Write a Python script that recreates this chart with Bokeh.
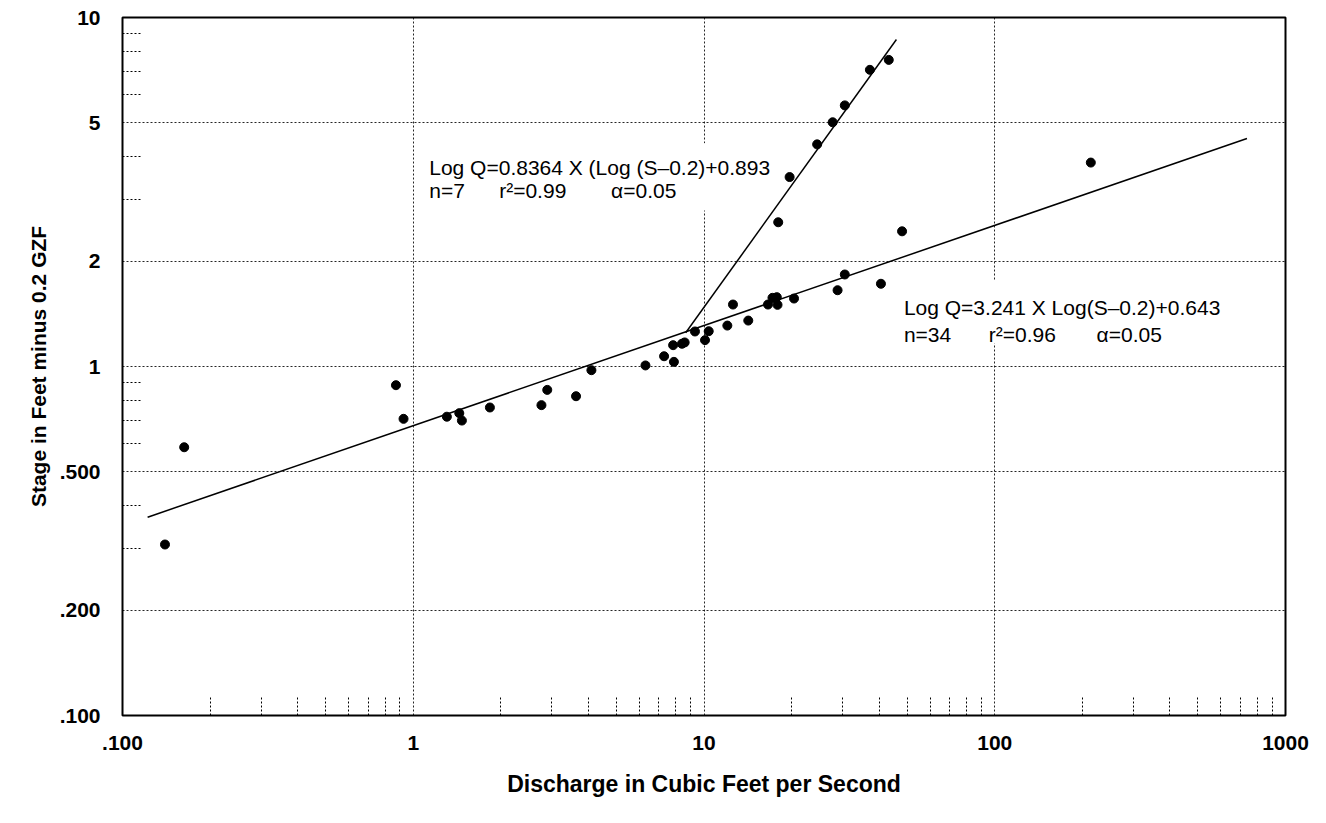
from bokeh.plotting import figure
from bokeh.models import FixedTicker, Label, BoxAnnotation, Range1d
from bokeh.embed import file_html
from bokeh.resources import INLINE

# ---------------- data ----------------
# Lower segment (n=34): discharge (cfs) and stage (ft minus 0.2 GZF)
q_low = [0.140, 0.163, 0.872, 0.926, 1.305, 1.44, 1.47, 1.835, 2.76, 2.89,
         3.63, 4.10, 6.29, 7.29, 7.88, 7.83, 8.40, 8.58, 9.31, 10.08,
         10.38, 12.03, 12.58, 14.2, 16.6, 17.2, 17.8, 17.9, 20.4, 28.8,
         30.5, 40.6, 48.0, 214.0]
s_low = [0.309, 0.587, 0.884, 0.708, 0.718, 0.735, 0.700, 0.763, 0.775, 0.857,
         0.822, 0.976, 1.007, 1.07, 1.031, 1.151, 1.162, 1.172, 1.26, 1.19,
         1.262, 1.31, 1.505, 1.354, 1.505, 1.573, 1.58, 1.502, 1.566, 1.654,
         1.835, 1.726, 2.44, 3.84]

# Upper segment (n=7)
q_high = [18.0, 19.7, 24.5, 27.7, 30.5, 37.2, 43.2]
s_high = [2.59, 3.49, 4.33, 5.01, 5.6, 7.08, 7.56]

# Fitted lines (end points as drawn)
fit_low_q = [0.122, 737.0]
fit_low_s = [0.370, 4.50]
fit_high_q = [8.65, 45.9]
fit_high_s = [1.249, 8.65]

x_ticks = [0.1, 1, 10, 100, 1000]
x_tick_labels = [".100", "1", "10", "100", "1000"]
x_minor = [m * d for d in (0.1, 1, 10, 100) for m in range(2, 10)]
x_grid = [1, 10, 100]

y_ticks = [0.1, 0.2, 0.5, 1, 2, 5, 10]
y_tick_labels = [".100", ".200", ".500", "1", "2", "5", "10"]
y_minor = [0.3, 0.4, 0.6, 0.7, 0.8, 0.9, 3, 4, 6, 7, 8, 9]
y_grid = [0.2, 0.5, 1, 2, 5]

FONT = "Liberation Sans"

p = figure(width=1310, height=807,
           x_axis_type="log", y_axis_type="log",
           x_range=Range1d(0.1, 1000), y_range=Range1d(0.1, 10),
           output_backend="svg", toolbar_location=None,
           min_border_left=122, min_border_right=25,
           min_border_top=17, min_border_bottom=92,
           background_fill_color="white", border_fill_color="white")

p.outline_line_color = "black"
p.outline_line_width = 2

p.xaxis.ticker = FixedTicker(ticks=x_ticks, minor_ticks=x_minor)
p.yaxis.ticker = FixedTicker(ticks=y_ticks, minor_ticks=y_minor)
p.xaxis.major_label_overrides = {t: l for t, l in zip(x_ticks, x_tick_labels)}
p.yaxis.major_label_overrides = {t: l for t, l in zip(y_ticks, y_tick_labels)}

for ax in (p.xaxis[0], p.yaxis[0]):
    ax.axis_line_color = None
    ax.major_tick_in = 0
    ax.major_tick_out = 0
    ax.major_tick_line_color = None
    ax.minor_tick_in = 20
    ax.minor_tick_out = 0
    ax.minor_tick_line_color = "black"
    ax.minor_tick_line_dash = "2 2"
    ax.minor_tick_line_width = 1
    ax.major_label_text_font = FONT
    ax.major_label_text_font_style = "bold"
    ax.major_label_text_font_size = "21px"
    ax.major_label_text_color = "black"
    ax.axis_label_text_font = FONT
    ax.axis_label_text_font_style = "bold"
    ax.axis_label_text_color = "black"

p.xaxis.major_label_standoff = 20
p.yaxis.major_label_standoff = 22
p.xaxis.axis_label = "Discharge in Cubic Feet per Second"
p.yaxis.axis_label = "Stage in Feet minus 0.2 GZF"
p.xaxis.axis_label_text_font_size = "23px"
p.yaxis.axis_label_text_font_size = "21px"
p.xaxis.axis_label_standoff = 18
p.yaxis.axis_label_standoff = 7

p.xgrid.ticker = FixedTicker(ticks=x_grid)
p.ygrid.ticker = FixedTicker(ticks=y_grid)
for g in (p.xgrid[0], p.ygrid[0]):
    g.grid_line_color = "black"
    g.grid_line_dash = "2 2"
    g.grid_line_width = 1
    g.grid_line_alpha = 0.85

# white boxes behind the equation texts (break the gridlines)
p.add_layout(BoxAnnotation(left=1.049, right=15.5, bottom=2.80, top=4.36,
                           fill_color="white", fill_alpha=1.0,
                           line_color=None, level="underlay"))
p.add_layout(BoxAnnotation(left=45.3, right=755, bottom=1.163, top=1.763,
                           fill_color="white", fill_alpha=1.0,
                           line_color=None, level="underlay"))

p.line(fit_low_q, fit_low_s, line_color="black", line_width=1.5)
p.line(fit_high_q, fit_high_s, line_color="black", line_width=1.5)
p.scatter(q_low, s_low, size=9, fill_color="black", line_color="black")
p.scatter(q_high, s_high, size=9, fill_color="black", line_color="black")

def lab(x, y, t):
    p.add_layout(Label(x=x, y=y, text=t, text_font=FONT, text_font_size="21px",
                       text_color="black", text_baseline="alphabetic",
                       text_align="left"))

lab(1.135, 3.72, "Log Q=0.8364 X (Log (S\u20130.2)+0.893")
lab(1.135, 3.19, "n=7")
lab(1.975, 3.19, "r\u00b2=0.99")
lab(4.79, 3.19, "\u03b1=0.05")

lab(48.7, 1.479, "Log Q=3.241 X Log(S\u20130.2)+0.643")
lab(48.7, 1.235, "n=34")
lab(95.4, 1.235, "r\u00b2=0.96")
lab(224.0, 1.235, "\u03b1=0.05")

open("out.html", "w").write(file_html(p, INLINE))
